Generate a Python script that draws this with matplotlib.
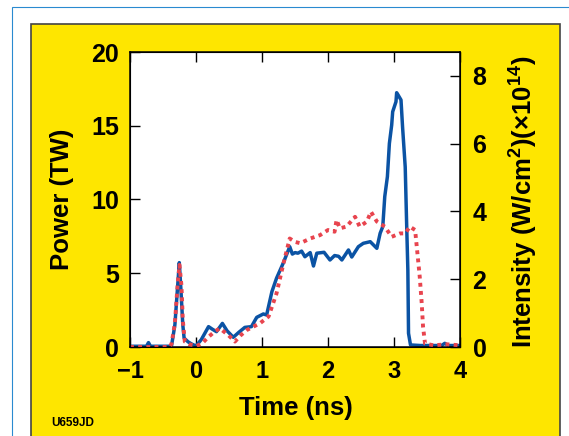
import matplotlib
matplotlib.use("Agg")
import matplotlib.pyplot as plt
from matplotlib.patches import Rectangle

plt.rcParams['font.family'] = ['Liberation Sans', 'DejaVu Sans']
plt.rcParams['font.weight'] = 'bold'
plt.rcParams['mathtext.fontset'] = 'custom'
plt.rcParams['mathtext.rm'] = 'Liberation Sans:bold'
plt.rcParams['mathtext.bf'] = 'Liberation Sans:bold'
plt.rcParams['mathtext.default'] = 'rm'

# power (TW), solid blue
t_blue = [-1.0, -0.75, -0.72, -0.69, -0.4, -0.37, -0.32, -0.28, -0.253, -0.23,
          -0.2, -0.18, -0.12, -0.065, 0.0, 0.08, 0.19, 0.25, 0.31, 0.40,
          0.47, 0.565, 0.65, 0.74, 0.84, 0.92, 1.02, 1.07, 1.15, 1.22,
          1.32, 1.42, 1.46, 1.5, 1.545, 1.6, 1.65, 1.73, 1.78, 1.83,
          1.94, 2.03, 2.1, 2.16, 2.21, 2.31, 2.36, 2.46, 2.535, 2.64,
          2.74, 2.79, 2.83, 2.86, 2.90, 2.93, 2.965, 2.98, 3.03, 3.04,
          3.06, 3.106, 3.13, 3.17, 3.19, 3.21, 3.22, 3.25, 3.4, 3.72,
          3.77, 3.82, 4.0]
p_blue = [0.05, 0.05, 0.3, 0.05, 0.05, 0.1, 1.5, 4.0, 5.72, 4.0,
          1.5, 0.6, 0.35, 0.2, 0.07, 0.5, 1.38, 1.2, 1.04, 1.6,
          1.1, 0.66, 1.0, 1.33, 1.38, 2.01, 2.24, 2.17, 3.75, 4.66,
          5.67, 6.8, 6.3, 6.4, 6.36, 6.5, 6.12, 6.4, 5.49, 6.36,
          6.42, 5.9, 6.2, 6.15, 5.9, 6.58, 6.1, 6.8, 7.03, 7.14,
          6.69, 7.71, 8.16, 10.2, 11.55, 13.8, 15.05, 15.95, 16.63, 17.24,
          17.1, 16.75, 14.9, 12.2, 8.6, 5.2, 0.93, 0.14, 0.1, 0.1,
          0.25, 0.1, 0.1]

# intensity (x1e14 W/cm2), dotted red
t_red = [-1.0, -0.4, -0.37, -0.32, -0.28, -0.25, -0.22, -0.2, -0.17, -0.1,
         0.01, 0.1, 0.19, 0.28, 0.36, 0.49, 0.59, 0.68, 0.77, 0.87,
         0.97, 1.1, 1.22, 1.32, 1.42, 1.5, 1.58, 1.73, 1.88, 2.0,
         2.1, 2.13, 2.18, 2.28, 2.41, 2.48, 2.59, 2.65, 2.74, 2.86,
         2.965, 3.09, 3.17, 3.24, 3.32, 3.35, 3.39, 3.42, 3.44, 3.47,
         3.6, 3.8, 4.0]
i_red = [0.0, 0.0, 0.1, 0.7, 1.8, 2.42, 1.8, 0.8, 0.16, 0.08,
         0.03, 0.12, 0.3, 0.45, 0.55, 0.35, 0.16, 0.35, 0.5, 0.6,
         0.7, 0.9, 1.58, 2.42, 3.2, 3.1, 3.06, 3.2, 3.3, 3.45,
         3.4, 3.75, 3.5, 3.55, 3.84, 3.55, 3.7, 3.99, 3.7, 3.55,
         3.25, 3.35, 3.35, 3.55, 3.45, 2.86, 2.07, 1.29, 0.6, 0.1,
         0.05, 0.08, 0.05]

W, H = 569, 436
fig = plt.figure(figsize=(W / 100, H / 100), dpi=100, facecolor='white')

# outer thin blue frame and yellow panel (behind the axes)
fig.patches.append(Rectangle((12 / W, -0.1), 1.2, (H - 7) / H + 0.1, transform=fig.transFigure,
                             facecolor='white', edgecolor='#2a8ad0', lw=0.8, zorder=-3))
fig.patches.append(Rectangle((31 / W, -0.1), (560 - 31) / W, (H - 24) / H + 0.1,
                             transform=fig.transFigure,
                             facecolor='#fee600', edgecolor='#444444', lw=1.2, zorder=-2))

ax = fig.add_axes([130 / W, 89 / H, 330 / W, 295 / H])
ax.set_facecolor('white')
ax.plot(t_blue, p_blue, color='#0b53a4', lw=2.5, solid_joinstyle='round')
ax.set_xlim(-1, 4)
ax.set_ylim(0, 20)
ax.set_xticks([-1, 0, 1, 2, 3, 4])
ax.set_yticks([0, 5, 10, 15, 20])
ax.tick_params(direction='in', length=7.5, width=1, top=True, right=False, pad=8)
ax.tick_params(axis='x', pad=9, labelsize=17)
ax.tick_params(axis='y', labelsize=18)
for s in ax.spines.values():
    s.set_linewidth(1.1)

ax2 = ax.twinx()
ax2.plot(t_red, i_red, color='#e8444e', lw=2.8, linestyle=(0, (1, 1.1)))
ax2.set_ylim(0, 8.7)
ax2.set_yticks([0, 2, 4, 6, 8])
ax2.tick_params(direction='in', length=7.5, width=1, labelsize=18, pad=9)

fig.text(62 / W, 1 - 199 / H, 'Power (TW)', rotation=90, ha='center', va='center',
         fontsize=18.5, fontweight='bold')
fig.text(524 / W, 1 - 202 / H, 'Intensity (W/cm$^{2}$)(×10$^{14}$)', rotation=90,
         ha='center', va='center', fontsize=18.5, fontweight='bold')
fig.text(296 / W, 1 - 408 / H, 'Time (ns)', ha='center', va='center',
         fontsize=18.5, fontweight='bold')
fig.text(51 / W, 1 - 422.5 / H, 'U659JD', ha='left', va='center',
         fontsize=8.5, fontweight='bold')

fig.savefig('out.png', dpi=100, facecolor='white')
